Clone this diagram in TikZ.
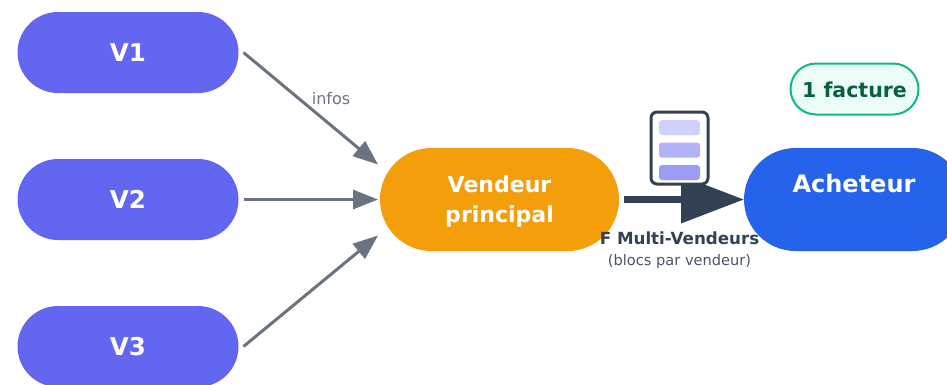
\documentclass[tikz,border=0pt]{standalone}
\usepackage{xcolor}
\usepackage{fontspec}
\setmainfont{DejaVu Sans}
\usepackage{tikz}
\usetikzlibrary{arrows.meta, positioning, shapes.misc}

\definecolor{vendorblue}{HTML}{6366F1}
\definecolor{mainorange}{HTML}{F59E0B}
\definecolor{buyerblue}{HTML}{2563EB}
\definecolor{arrowgrey}{HTML}{6B7280}
\definecolor{darkslate}{HTML}{334155}
\definecolor{subslate}{HTML}{475569}
\definecolor{mintfill}{HTML}{ECFDF5}
\definecolor{mintline}{HTML}{10B981}
\definecolor{minttext}{HTML}{065F46}

\begin{document}
\begin{tikzpicture}[
    x=1pt, y=1pt,
    vendor/.style={rounded rectangle, fill=vendorblue, text=white, inner sep=0pt, outer sep=0pt, minimum width=221pt, minimum height=81pt, align=center, font=\fontsize{24.5}{30}\selectfont\bfseries},
    party/.style={rounded rectangle, text=white, inner sep=0pt, outer sep=0pt, minimum height=103pt, align=center},
    badge/.style={rounded rectangle, draw=mintline, line width=2pt, fill=mintfill, text=minttext, inner sep=0pt, minimum width=128pt, minimum height=51pt, font=\fontsize{20.5}{24}\selectfont\bfseries},
    docbox/.style={rectangle, rounded corners=6pt, draw=darkslate, line width=3pt, fill=white, inner sep=0pt, minimum width=57pt, minimum height=72pt},
    docbar/.style={rectangle, rounded corners=3pt, inner sep=0pt, minimum width=41pt, minimum height=15pt},
    arrow/.style={-{Triangle[length=25pt, width=19pt]}, draw=arrowgrey, line width=3pt},
    bigarrow/.style={-{Triangle[length=63pt, width=46pt]}, draw=darkslate, line width=7pt, shorten <=5pt},
    node distance=66pt
]
\path[use as bounding box, clip] (0,0) rectangle (947,-384);

% Nodes
\node[vendor] (v1) at (128,-52.5) {V1};
\node[vendor, below=of v1] (v2) {V2};
\node[vendor, below=of v2] (v3) {V3};
\node[party, fill=mainorange, minimum width=239pt, font=\fontsize{22}{30}\selectfont\bfseries, right=141.5pt of v2] (main) {\rule{0pt}{21pt}Vendeur\\principal};
\node[party, fill=buyerblue, minimum width=220pt, font=\fontsize{24}{30}\selectfont\bfseries, right=125pt of main] (buyer) {\rule{0pt}{24pt}Acheteur\\\strut};
\node[badge] (count) at (854.5,-89) {\rule{0pt}{17.6pt}1 facture};

% Arrows
\coordinate (out1) at ([xshift=5pt]v1.east);
\coordinate (out2) at ([xshift=5pt]v2.east);
\coordinate (out3) at ([xshift=5pt]v3.east);
\coordinate (in1) at ([xshift=-2pt, yshift=35pt]main.west);
\coordinate (in2) at ([xshift=-2pt]main.west);
\coordinate (in3) at ([xshift=-2pt, yshift=-36pt]main.west);
\draw[arrow] (out1) -- (in1);
\draw[arrow] (out2) -- (in2);
\draw[arrow] (out3) -- (in3);
\node[text=arrowgrey, font=\fontsize{16}{20}\selectfont] (infos) at (331,-98.5) {infos};
\draw[bigarrow] (main.east) -- (buyer.west);

% Document
\node[docbox] (doc) at (679.5,-148) {};
\node[docbar, fill=vendorblue!30, below=9.5pt of doc.north] (bar1) {};
\node[docbar, fill=vendorblue!50, below=7pt of bar1] (bar2) {};
\node[docbar, fill=vendorblue!65, below=7pt of bar2] (bar3) {};
\node[text=darkslate, font=\fontsize{16.7}{20}\selectfont\bfseries] (title) at (679.5,-238) {F Multi-Vendeurs};
\node[text=subslate, font=\fontsize{14.6}{18}\selectfont] (subtitle) at (679.5,-261) {(blocs par vendeur)};

\end{tikzpicture}
\end{document}
